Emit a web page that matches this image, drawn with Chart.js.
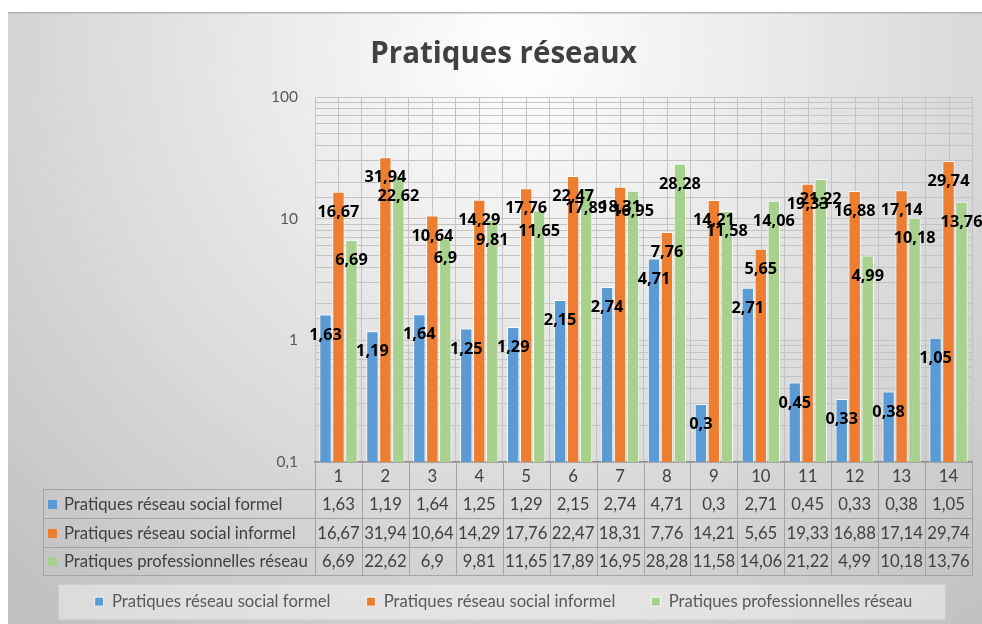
<!DOCTYPE html>
<html lang="fr">
<head>
<meta charset="utf-8">
<title>Pratiques réseaux</title>
<script src="https://cdn.jsdelivr.net/npm/chart.js@4.4.1/dist/chart.umd.min.js"></script>
<style>
  html, body { margin: 0; padding: 0; background: #fff; }
  #wrap { width: 982px; height: 624px; position: relative; }
</style>
</head>
<body>
<div id="wrap"><canvas id="chart" width="982" height="624"></canvas></div>
<script>
// Categories (1 to 14) and the three series plotted on a log scale
const categories = ['1', '2', '3', '4', '5', '6', '7', '8', '9', '10', '11', '12', '13', '14'];
const seriesNames = [
  'Pratiques réseau social formel',
  'Pratiques réseau social informel',
  'Pratiques professionnelles réseau'
];
const formel   = [1.63, 1.19, 1.64, 1.25, 1.29, 2.15, 2.74, 4.71, 0.3, 2.71, 0.45, 0.33, 0.38, 1.05];
const informel = [16.67, 31.94, 10.64, 14.29, 17.76, 22.47, 18.31, 7.76, 14.21, 5.65, 19.33, 16.88, 17.14, 29.74];
const pro      = [6.69, 22.62, 6.9, 9.81, 11.65, 17.89, 16.95, 28.28, 11.58, 14.06, 21.22, 4.99, 10.18, 13.76];
const yMin = 0.1;
const yMax = 100;

const seriesValues = [formel, informel, pro];
const seriesColors = ['#5b9bd5', '#ed7d31', '#a9d18e'];

const FONT = 'Lato, "Open Sans", sans-serif';
const fmt = v => String(v).replace('.', ',');

// Page background: white margin, grey radial-gradient frame
const backgroundPlugin = {
  id: 'frameBackground',
  beforeDraw(chart) {
    const ctx = chart.ctx;
    const W = chart.width, H = chart.height;
    ctx.save();
    ctx.fillStyle = '#ffffff';
    ctx.fillRect(0, 0, W, H);
    const g = ctx.createRadialGradient(520, 50, 0, 520, 50, 720);
    g.addColorStop(0, '#ffffff');
    g.addColorStop(0.25, '#f0f0f0');
    g.addColorStop(0.6, '#dbdbdb');
    g.addColorStop(1, '#c2c2c2');
    ctx.fillStyle = g;
    ctx.fillRect(8, 12, W - 8, H - 12);
    ctx.fillStyle = '#b5b5b5';
    ctx.fillRect(8, 12, W - 8, 1.5);

    // light panel behind the legend
    const lg = chart.legend;
    if (lg && lg.legendHitBoxes && lg.legendHitBoxes.length) {
      const boxes = lg.legendHitBoxes;
      const first = boxes[0], last = boxes[boxes.length - 1];
      const cy = first.top + first.height / 2;
      ctx.fillStyle = 'rgba(255,255,255,0.42)';
      ctx.fillRect(first.left - 36, cy - 17, (last.left + last.width + 33) - (first.left - 36), 35);
    }
    ctx.restore();
  }
};

// Extra vertical gridlines through the middle of each category
const centerGridPlugin = {
  id: 'centerGrid',
  beforeDatasetsDraw(chart) {
    const ctx = chart.ctx;
    const xs = chart.scales.x;
    const area = chart.chartArea;
    ctx.save();
    ctx.strokeStyle = '#c3c3c3';
    ctx.lineWidth = 1;
    ctx.beginPath();
    categories.forEach((c, i) => {
      const x = Math.round(xs.getPixelForValue(i)) + 0.5;
      ctx.moveTo(x, area.top);
      ctx.lineTo(x, area.bottom);
    });
    ctx.stroke();
    ctx.restore();
  }
};

// Value labels inside the top of each bar
const valueLabelPlugin = {
  id: 'valueLabels',
  afterDatasetsDraw(chart) {
    const ctx = chart.ctx;
    ctx.save();
    ctx.font = 'bold 16.3px "Open Sans", Lato, sans-serif';
    ctx.fillStyle = '#000000';
    ctx.textAlign = 'center';
    ctx.textBaseline = 'middle';
    chart.data.datasets.forEach((ds, di) => {
      const meta = chart.getDatasetMeta(di);
      meta.data.forEach((bar, i) => {
        ctx.fillText(fmt(ds.data[i]), bar.x, bar.y + 20.5);
      });
    });
    ctx.restore();
  }
};

// Data table under the plot: category row plus one row per series
const dataTablePlugin = {
  id: 'dataTable',
  afterDraw(chart) {
    const ctx = chart.ctx;
    const xs = chart.scales.x;
    const area = chart.chartArea;
    const tableLeft = 43;
    const rowH = [27, 29, 29, 28];
    const rowTop = [area.bottom];
    for (let r = 0; r < rowH.length; r++) rowTop.push(rowTop[r] + rowH[r]);
    const bottom = rowTop[rowTop.length - 1];
    const half = (xs.getPixelForValue(1) - xs.getPixelForValue(0)) / 2;
    const px = v => Math.round(v) + 0.5;

    ctx.save();
    ctx.strokeStyle = '#a3a3a3';
    ctx.lineWidth = 1;
    ctx.beginPath();
    // horizontal rules
    for (let r = 1; r < rowTop.length; r++) {
      ctx.moveTo(tableLeft, px(rowTop[r]));
      ctx.lineTo(area.right, px(rowTop[r]));
    }
    // vertical rules
    ctx.moveTo(px(tableLeft), px(rowTop[1]));
    ctx.lineTo(px(tableLeft), px(bottom));
    categories.forEach((c, i) => {
      const x = px(xs.getPixelForValue(i) - half);
      ctx.moveTo(x, area.bottom);
      ctx.lineTo(x, px(bottom));
    });
    ctx.moveTo(px(area.right), area.bottom);
    ctx.lineTo(px(area.right), px(bottom));
    ctx.stroke();

    ctx.font = '16.7px ' + FONT;
    ctx.fillStyle = '#404040';
    ctx.textBaseline = 'middle';
    ctx.textAlign = 'center';
    categories.forEach((c, i) => {
      ctx.fillText(c, xs.getPixelForValue(i), rowTop[0] + rowH[0] / 2 + 1);
    });
    seriesValues.forEach((vals, s) => {
      const cy = rowTop[s + 1] + rowH[s + 1] / 2 + 1;
      ctx.textAlign = 'center';
      ctx.fillStyle = '#404040';
      vals.forEach((v, i) => ctx.fillText(fmt(v), xs.getPixelForValue(i), cy));
      ctx.fillStyle = seriesColors[s];
      ctx.fillRect(48, Math.round(cy - 5), 9, 9);
      ctx.fillStyle = '#404040';
      ctx.textAlign = 'left';
      ctx.fillText(seriesNames[s], 64, cy);
    });
    ctx.restore();
  }
};

const isDecade = v => Math.abs(Math.log10(v) - Math.round(Math.log10(v))) < 1e-9;

new Chart(document.getElementById('chart'), {
  type: 'bar',
  data: {
    labels: categories,
    datasets: seriesValues.map((vals, s) => ({
      label: seriesNames[s],
      data: vals,
      backgroundColor: seriesColors[s],
      borderColor: 'rgba(255,255,255,0.85)',
      borderWidth: 1,
      categoryPercentage: 0.83,
      barPercentage: 0.95
    }))
  },
  options: {
    responsive: false,
    animation: false,
    layout: { padding: { top: 12, left: 35, right: 10, bottom: 4 } },
    scales: {
      x: {
        type: 'category',
        offset: true,
        ticks: { display: false },
        grid: { offset: true, color: '#c3c3c3', lineWidth: 1, drawTicks: false },
        border: { display: true, color: '#8a8a8a', width: 1.5 },
        afterFit(scale) { scale.height = 95.3; }
      },
      y: {
        type: 'logarithmic',
        min: yMin,
        max: yMax,
        ticks: {
          autoSkip: false,
          padding: 17,
          color: '#595959',
          font: { family: FONT, size: 15.5 },
          callback: v => (isDecade(v) ? fmt(v) : '')
        },
        grid: { color: '#c3c3c3', lineWidth: 1, drawTicks: false },
        border: { display: false },
        afterFit(scale) { scale.width = 280; }
      }
    },
    plugins: {
      title: {
        display: true,
        text: 'Pratiques réseaux',
        color: '#404040',
        font: { family: '"Open Sans", Lato, sans-serif', size: 29.5, weight: 'bold', lineHeight: 1.2 },
        padding: { top: 25, bottom: 24.6 }
      },
      legend: {
        display: true,
        position: 'bottom',
        labels: {
          boxWidth: 9,
          boxHeight: 9,
          padding: 36,
          color: '#595959',
          font: { family: FONT, size: 16.7 }
        }
      },
      tooltip: { enabled: false }
    }
  },
  plugins: [backgroundPlugin, centerGridPlugin, valueLabelPlugin, dataTablePlugin]
});
</script>
</body>
</html>
